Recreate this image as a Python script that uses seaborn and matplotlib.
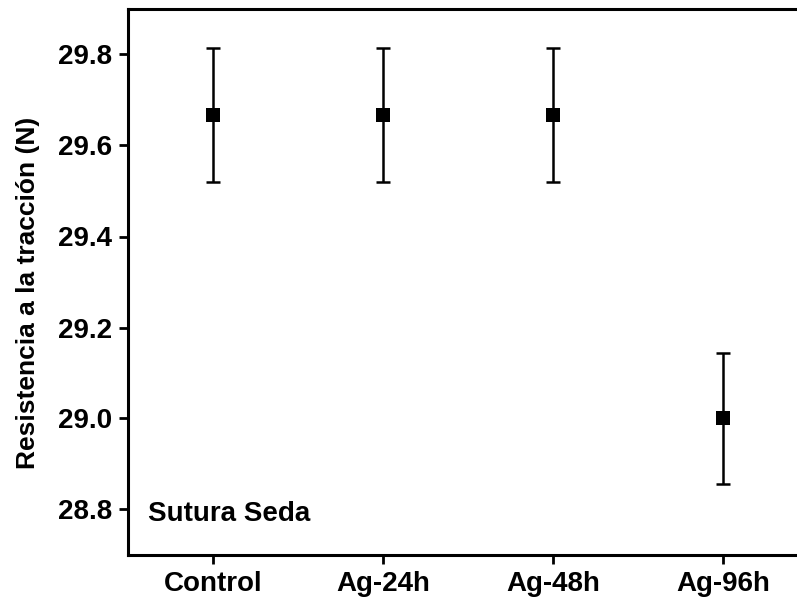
import matplotlib
matplotlib.use("Agg")
import matplotlib.pyplot as plt
import seaborn as sns
import pandas as pd

# Tensile strength of silk sutures (mean ± SD)
groups = ["Control", "Ag-24h", "Ag-48h", "Ag-96h"]
means = [29.667, 29.667, 29.667, 29.0]
sds = [0.148, 0.148, 0.148, 0.145]

sns.set_theme(style="ticks")
plt.rcParams["font.family"] = ["Liberation Sans", "DejaVu Sans"]
plt.rcParams["font.weight"] = "bold"
plt.rcParams["text.color"] = "black"
plt.rcParams["axes.labelcolor"] = "black"
plt.rcParams["xtick.color"] = "black"
plt.rcParams["ytick.color"] = "black"

df = pd.DataFrame({"grupo": groups, "media": means, "sd": sds})
df["pos"] = range(len(df))

fig = plt.figure(figsize=(7.97, 6.03), dpi=100)
ax = fig.add_axes([128 / 797, 1 - 555 / 603, 1 - 128 / 797, (555 - 9) / 603])

ax.errorbar(df["pos"], df["media"], yerr=df["sd"], fmt="none",
            ecolor="black", elinewidth=1.8, capsize=5, capthick=1.8, zorder=2)
sns.scatterplot(data=df, x="pos", y="media", marker="s", s=110,
                color="black", edgecolor="black", linewidth=0, ax=ax, zorder=3)

ax.set_xlim(-0.5, 3.435)
ax.set_ylim(28.7, 29.9)
ax.set_xticks(df["pos"])
ax.set_xticklabels(groups)
ax.set_yticks([28.8, 29.0, 29.2, 29.4, 29.6, 29.8])
ax.set_yticklabels(["28.8", "29.0", "29.2", "29.4", "29.6", "29.8"])

ax.set_xlabel("")
ax.set_ylabel("Resistencia a la tracción (N)", fontsize=19, fontweight="bold",
              color="black")
ax.yaxis.set_label_coords(-0.131, 0.48)

for side in ["left", "bottom", "top"]:
    ax.spines[side].set_linewidth(2.2)
    ax.spines[side].set_color("black")
ax.spines["right"].set_visible(False)

ax.tick_params(axis="both", direction="out", length=6.5, width=2, color="black",
               labelcolor="black", labelsize=20, pad=5)
for lbl in ax.get_xticklabels() + ax.get_yticklabels():
    lbl.set_fontweight("bold")

ax.text(0.03, 0.075, "Sutura Seda", transform=ax.transAxes, fontsize=20,
        fontweight="bold", ha="left", va="center", color="black")

fig.savefig("out.png", dpi=100)
